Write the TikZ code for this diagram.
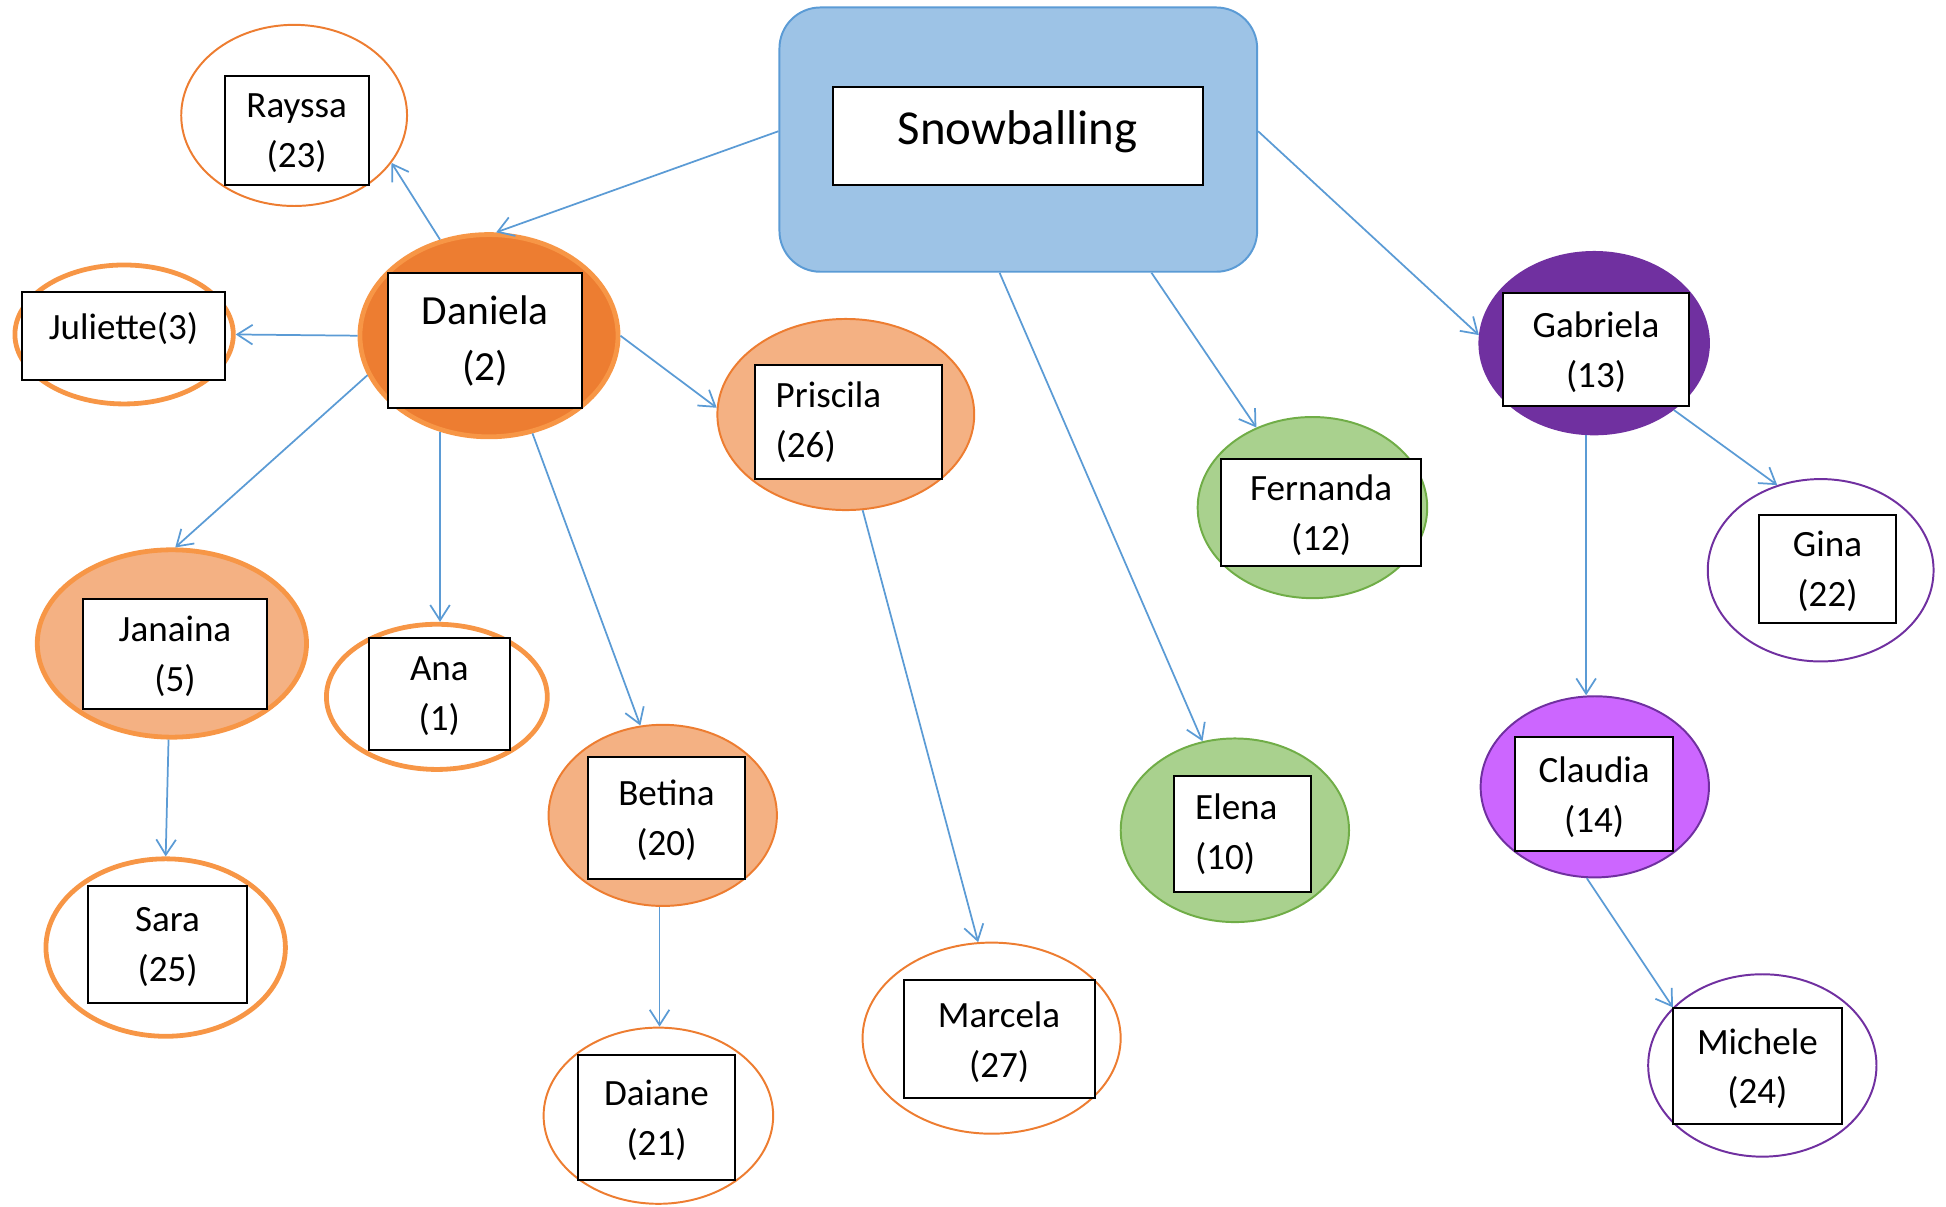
\documentclass[tikz,border=0pt]{standalone}
\usepackage{fontspec}
\setmainfont{Carlito}
\usetikzlibrary{arrows.meta,shapes.geometric}

\definecolor{snowfill}{HTML}{9DC3E6}
\definecolor{bluelink}{HTML}{5B9BD5}
\definecolor{orgdark}{HTML}{ED7D31}
\definecolor{orglight}{HTML}{F79646}
\definecolor{orgpale}{HTML}{F4B183}
\definecolor{grnfill}{HTML}{A9D18E}
\definecolor{grnline}{HTML}{70AD47}
\definecolor{purdark}{HTML}{7030A0}
\definecolor{purlight}{HTML}{CC66FF}

\tikzset{
  circ/.style={ellipse, inner sep=0pt},
  thin ring/.style={circ, draw=#1, line width=0.9pt},
  thick ring/.style={circ, draw=orglight, line width=2.2pt},
  name box/.style={draw, fill=white, line width=0.9pt, inner sep=0pt, align=center,
    text depth=0pt, font=\fontsize{17}{22.8}\selectfont},
  link/.style={draw=bluelink, line width=0.8pt, -{Straight Barb[length=7pt,width=9pt]}}
}

\begin{document}
\begin{tikzpicture}[x=0.02cm,y=-0.02cm]
\useasboundingbox (0,0) rectangle (1568,972);

\node[draw=bluelink, fill=snowfill, line width=0.9pt, rounded corners=0.66cm,
  minimum width=7.7cm, minimum height=4.26cm] (snow) at (820.5,112.5) {};
\node[name box, minimum width=5.96cm, minimum height=1.58cm, text depth=0.28cm,
  font=\fontsize{22.4}{27}\selectfont] (snow-n) at (820,109.5) {Snowballing};

\node[thin ring=orgdark, minimum width=3.64cm, minimum height=2.92cm] (rayssa) at (237,93) {};
\node[thick ring, minimum width=3.52cm, minimum height=2.24cm] (juliette) at (100,269.5) {};
\node[thick ring, fill=orgdark, minimum width=4.16cm, minimum height=3.26cm] (daniela) at (394,270.5) {};
\node[thin ring=orgdark, fill=orgpale, minimum width=4.14cm, minimum height=3.08cm] (priscila) at (681.5,334) {};
\node[thick ring, fill=orgpale, minimum width=4.34cm, minimum height=3.02cm] (janaina) at (138.5,518.5) {};
\node[thick ring, minimum width=3.56cm, minimum height=2.34cm] (ana) at (352,561.5) {};
\node[thin ring=orgdark, fill=orgpale, minimum width=3.68cm, minimum height=2.92cm] (betina) at (534,657) {};
\node[thick ring, minimum width=3.86cm, minimum height=2.86cm] (sara) at (133.5,763.5) {};
\node[thin ring=orgdark, minimum width=3.7cm, minimum height=2.84cm] (daiane) at (530.5,899) {};
\node[thin ring=orgdark, minimum width=4.16cm, minimum height=3.08cm] (marcela) at (799,836.5) {};
\node[thin ring=grnline, fill=grnfill, minimum width=3.7cm, minimum height=2.92cm] (fernanda) at (1057.5,409) {};
\node[thin ring=grnline, fill=grnfill, minimum width=3.68cm, minimum height=2.96cm] (elena) at (995,669) {};
\node[thin ring=purdark, fill=purdark, minimum width=3.7cm, minimum height=2.94cm] (gabriela) at (1284.5,276.5) {};
\node[thin ring=purdark, minimum width=3.64cm, minimum height=2.94cm] (gina) at (1467,459.5) {};
\node[thin ring=purdark, fill=purlight, minimum width=3.68cm, minimum height=2.92cm] (claudia) at (1285,634) {};
\node[thin ring=purdark, minimum width=3.68cm, minimum height=2.94cm] (michele) at (1420,858.5) {};

\node[name box, minimum width=2.32cm, minimum height=1.76cm] (rayssa-n) at (239,105) {Rayssa\\(23)};
\node[name box, minimum width=3.26cm, minimum height=1.42cm] (juliette-n) at (99.5,270.5) {\raisebox{0.3cm}{Juliette(3)}};
\node[name box, minimum width=3.12cm, minimum height=2.18cm, text depth=,
  font=\fontsize{19}{25.6}\selectfont] (daniela-n) at (391,274.5) {Daniela\\(2)};
\node[name box, minimum width=3.02cm, minimum height=1.84cm, text depth=,
  text width=2.34cm, align=left] (priscila-n) at (683.5,340) {Priscila\\(26)};
\node[name box, minimum width=2.96cm, minimum height=1.76cm] (janaina-n) at (141,527) {Janaina\\(5)};
\node[name box, minimum width=2.28cm, minimum height=1.8cm] (ana-n) at (354,559) {Ana\\(1)};
\node[name box, minimum width=2.52cm, minimum height=1.96cm] (betina-n) at (537,659) {Betina\\(20)};
\node[name box, minimum width=2.56cm, minimum height=1.88cm] (sara-n) at (135,761) {Sara\\(25)};
\node[name box, minimum width=2.52cm, minimum height=2.02cm] (daiane-n) at (529,900.5) {Daiane\\(21)};
\node[name box, minimum width=3.08cm, minimum height=1.9cm] (marcela-n) at (805,837.5) {Marcela\\(27)};
\node[name box, minimum width=3.22cm, minimum height=1.72cm] (fernanda-n) at (1064.5,413) {Fernanda\\(12)};
\node[name box, minimum width=2.2cm, minimum height=1.88cm, text depth=,
  text width=1.52cm, align=left] (elena-n) at (1001,672) {Elena\\(10)};
\node[name box, minimum width=3.0cm, minimum height=1.82cm] (gabriela-n) at (1286,281.5) {Gabriela\\(13)};
\node[name box, minimum width=2.22cm, minimum height=1.74cm] (gina-n) at (1472.5,458.5) {Gina\\(22)};
\node[name box, minimum width=2.54cm, minimum height=1.84cm] (claudia-n) at (1284.5,640) {Claudia\\(14)};
\node[name box, minimum width=2.72cm, minimum height=1.88cm] (michele-n) at (1416,859) {Michele\\(24)};

\draw[link] (snow.178) -- (daniela.86);
\draw[link] (snow.262) -- (elena.110);
\draw[link] (snow.315) -- (fernanda.125);
\draw[link] (snow.2) -- (gabriela.176);
\draw[link] (daniela.117) -- (rayssa.-26);
\draw[link] (daniela.west) -- (juliette.east);
\draw[link] (daniela.east) -- (priscila.177);
\draw[link] (daniela.198) -- (janaina.88);
\draw[link] (daniela.243) -- (daniela.243 |- ana.north);
\draw[link] (daniela.294) -- (betina.104);
\draw[link] (priscila.280) -- (marcela.98);
\draw[link] (janaina.268) -- (sara.north);
\draw[link] (betina.268) -- (betina.268 |- daiane.north);
\draw[link] (gabriela.320) -- (gina.117);
\draw[link] (gabriela.265) -- (gabriela.265 |- claudia.north);
\draw[link] (claudia.265) -- (michele.147);
\end{tikzpicture}
\end{document}
